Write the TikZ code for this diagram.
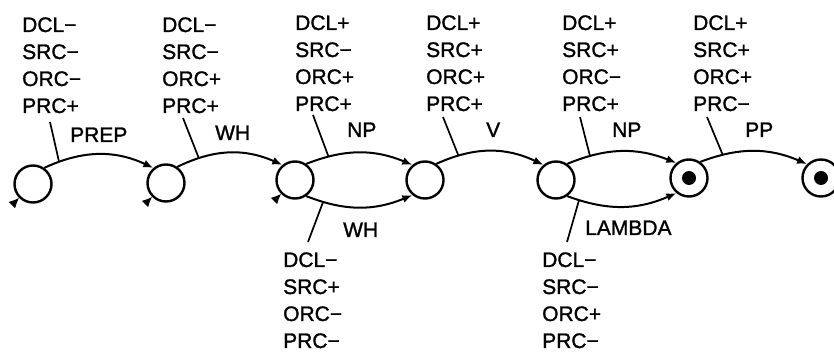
\documentclass[tikz,border=0pt]{standalone}
\usepackage{fontspec}
\setmainfont{Liberation Sans}
\newfontfamily\lblfont{Liberation Sans}[FakeBold=1.3]
\usetikzlibrary{arrows.meta,calc}
\begin{document}
\begin{tikzpicture}[x=1pt,y=1pt,
  state/.style={circle,draw,line width=2.4pt,minimum size=37pt,inner sep=0pt},
  arc/.style={line width=2pt,-{Latex[length=10pt,width=8pt]}},
  stub/.style={line width=0.8pt,-{Latex[length=10pt,width=9pt]}},
  tick/.style={line width=1.7pt},
  lab/.style={font=\lblfont\fontsize{21}{27}\selectfont,inner sep=0pt,anchor=base west},
]
\useasboundingbox (0,0) rectangle (834,-352);
% states
\node[state] (c1) at (33,-184) {};
\node[state] (c2) at (166,-183) {};
\node[state] (c3) at (295,-180) {};
\node[state] (c4) at (425,-180) {};
\node[state] (c5) at (556,-180) {};
\node[state] (c6) at (689,-178) {};
\node[state] (c7) at (821,-178) {};
\fill (c6.center) circle (7);
\fill (c7.center) circle (7);
% arcs
\draw[arc] (c1.55) to[bend left=25] coordinate[pos=0.13] (p1) (c2.130);
\draw[arc] (c2.55) to[bend left=25] coordinate[pos=0.2] (p2) (c3.130);
\draw[arc] (c3.55) to[bend left=22] coordinate[pos=0.2] (p3) (c4.130);
\draw[arc] (c3.-55) to[bend right=22] coordinate[pos=0.15] (q3) (c4.-130);
\draw[arc] (c4.55) to[bend left=25] coordinate[pos=0.2] (p4) (c5.130);
\draw[arc] (c5.55) to[bend left=22] coordinate[pos=0.2] (p5) (c6.130);
\draw[arc] (c5.-55) to[bend right=22] coordinate[pos=0.1] (q5) (c6.-130);
\draw[arc] (c6.55) to[bend left=22] coordinate[pos=0.2] (p6) (c7.135);
% stubs at lower left
\coordinate (t1) at ($(c1.225)+(225:10)$);
\coordinate (t2) at ($(c2.225)+(225:10)$);
\coordinate (t3) at ($(c3.225)+(225:10)$);
\draw[stub] (t1) -- (c1.225);
\draw[stub] (t2) -- (c2.225);
\draw[stub] (t3) -- (c3.225);
% condition stacks
\node[lab] (s1) at (22,-32) {\begin{tabular}[t]{@{}l@{}}DCL−\\SRC−\\ORC−\\PRC+\end{tabular}};
\node[lab] (s2) at (162,-32) {\begin{tabular}[t]{@{}l@{}}DCL−\\SRC−\\ORC+\\PRC+\end{tabular}};
\node[lab] (s3) at (295,-30) {\begin{tabular}[t]{@{}l@{}}DCL+\\SRC−\\ORC+\\PRC+\end{tabular}};
\node[lab] (s4) at (426,-30) {\begin{tabular}[t]{@{}l@{}}DCL+\\SRC+\\ORC+\\PRC+\end{tabular}};
\node[lab] (s5) at (562,-30) {\begin{tabular}[t]{@{}l@{}}DCL+\\SRC+\\ORC−\\PRC+\end{tabular}};
\node[lab] (s6) at (693,-30) {\begin{tabular}[t]{@{}l@{}}DCL+\\SRC+\\ORC+\\PRC−\end{tabular}};
\node[lab] (b1) at (283,-267) {\begin{tabular}[t]{@{}l@{}}DCL−\\SRC+\\ORC−\\PRC−\end{tabular}};
\node[lab] (b2) at (542,-267) {\begin{tabular}[t]{@{}l@{}}DCL−\\SRC−\\ORC+\\PRC−\end{tabular}};
% pointer lines
\coordinate (u1) at (50,-122);
\coordinate (u2) at (183,-118);
\coordinate (u3) at (313,-115);
\coordinate (u4) at (443,-117);
\coordinate (u5) at (580,-117);
\coordinate (u6) at (707,-117);
\coordinate (v3) at (308,-242);
\coordinate (v5) at (567,-242);
\draw[tick] (u1) -- (p1);
\draw[tick] (u2) -- (p2);
\draw[tick] (u3) -- (p3);
\draw[tick] (u4) -- (p4);
\draw[tick] (u5) -- (p5);
\draw[tick] (u6) -- (p6);
\draw[tick] (v3) -- (q3);
\draw[tick] (v5) -- (q5);
% arc labels
\node[lab] (l1) at (70,-142) {PREP};
\node[lab] (l2) at (215,-140) {WH};
\node[lab] (l3) at (347,-137) {NP};
\node[lab] (l4) at (486,-137) {V};
\node[lab] (l5) at (612,-137) {NP};
\node[lab] (l6) at (745,-137) {PP};
\node[lab] (l7) at (343,-237) {WH};
\node[lab] (l8) at (585,-235) {LAMBDA};
\end{tikzpicture}
\end{document}
